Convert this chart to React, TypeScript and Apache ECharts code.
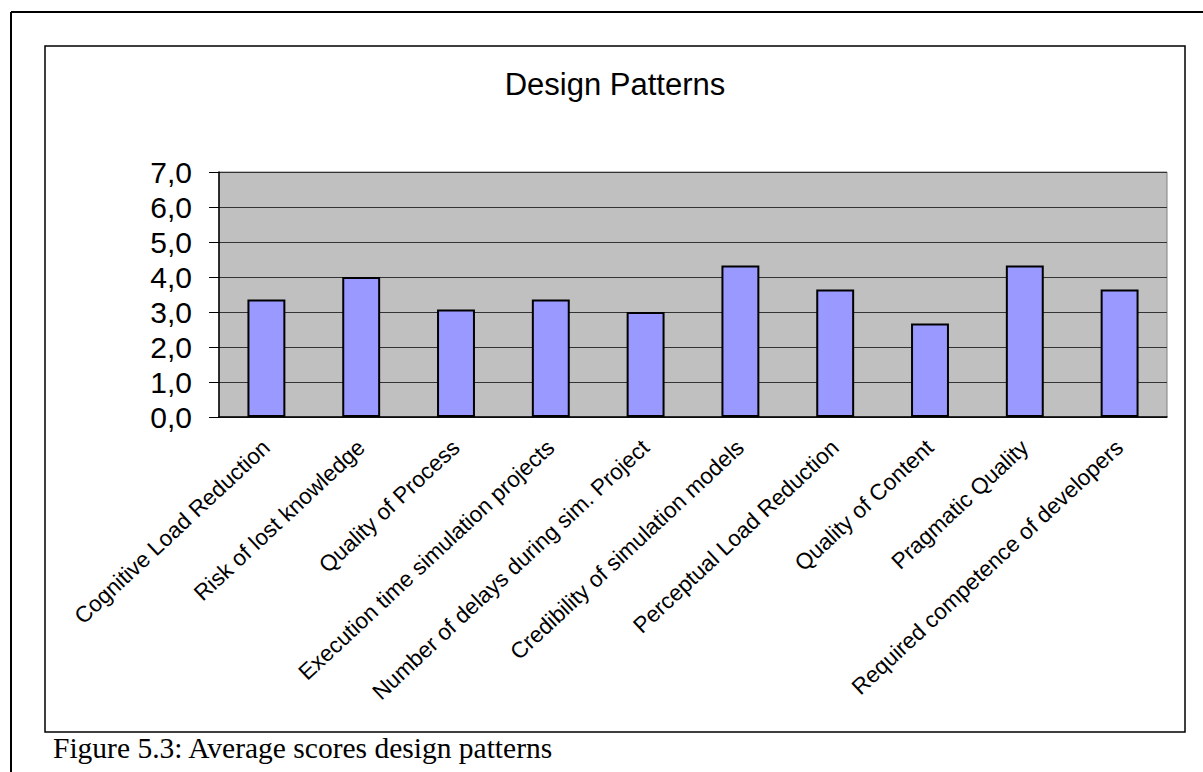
import React, { useEffect, useRef } from "react";
import * as echarts from "echarts";

const categories = [
  "Cognitive Load Reduction",
  "Risk of lost knowledge",
  "Quality of Process",
  "Execution time simulation projects",
  "Number of delays during sim. Project",
  "Credibility of simulation models",
  "Perceptual Load Reduction",
  "Quality of Content",
  "Pragmatic Quality",
  "Required competence of developers",
];
const scores = [3.36, 4.0, 3.07, 3.36, 3.0, 4.33, 3.64, 2.67, 4.33, 3.64];
const yMin = 0;
const yMax = 7;
const yStep = 1;
const chartTitle = "Design Patterns";
const caption = "Figure 5.3: Average scores design patterns";

export default function App() {
  const ref = useRef<HTMLDivElement>(null);
  useEffect(() => {
    if (!ref.current) return;
    const chart = echarts.init(ref.current, null, { renderer: "svg" });
    chart.setOption({
      animation: false,
      backgroundColor: "#ffffff",
      textStyle: { fontFamily: "Arial, 'Liberation Sans', sans-serif" },
      grid: {
        left: 219,
        right: 36,
        top: 172,
        bottom: 355,
        show: true,
        backgroundColor: "#C0C0C0",
        borderColor: "#808080",
        borderWidth: 1,
      },
      xAxis: {
        type: "category",
        data: categories,
        axisLine: { show: true, lineStyle: { color: "#000", width: 1.5 } },
        axisTick: { show: false },
        axisLabel: {
          interval: 0,
          rotate: 43,
          fontSize: 22.5,
          color: "#000",
          margin: 27,
          fontFamily: "Arial, 'Liberation Sans', sans-serif",
        },
      },
      yAxis: {
        type: "value",
        min: yMin,
        max: yMax,
        interval: yStep,
        axisLine: { show: true, lineStyle: { color: "#000", width: 1.5 } },
        axisTick: { show: true, length: 10, lineStyle: { color: "#000", width: 1 } },
        splitLine: { show: true, lineStyle: { color: "#333", width: 1 } },
        axisLabel: {
          fontSize: 30,
          color: "#000",
          margin: 27,
          fontFamily: "Arial, 'Liberation Sans', sans-serif",
          formatter: (v: number) => v.toFixed(1).replace(".", ","),
        },
      },
      series: [
        {
          type: "bar",
          data: scores,
          barWidth: "40%",
          itemStyle: { color: "#9999FF", borderColor: "#000", borderWidth: 2 },
        },
      ],
      graphic: [
        {
          type: "line",
          shape: { x1: 11, y1: 12, x2: 1203, y2: 12 },
          style: { stroke: "#000", lineWidth: 2 },
        },
        {
          type: "line",
          shape: { x1: 11, y1: 12, x2: 11, y2: 772 },
          style: { stroke: "#000", lineWidth: 2 },
        },
        {
          type: "rect",
          shape: { x: 45, y: 46, width: 1140, height: 686 },
          style: { fill: "none", stroke: "#000", lineWidth: 1.5 },
        },
        {
          type: "text",
          x: 615,
          y: 84,
          style: {
            text: chartTitle,
            fontSize: 31,
            fontFamily: "Arial, 'Liberation Sans', sans-serif",
            fill: "#000",
            textAlign: "center",
            textVerticalAlign: "middle",
          },
        },
        {
          type: "text",
          x: 53,
          y: 748,
          style: {
            text: caption,
            fontSize: 29.5,
            fontFamily: "'Times New Roman', 'Liberation Serif', serif",
            fill: "#000",
            textAlign: "left",
            textVerticalAlign: "middle",
          },
        },
      ],
    });
    return () => chart.dispose();
  }, []);
  return (
    <div
      ref={ref}
      style={{ position: "fixed", left: 0, top: 0, width: 1203, height: 772 }}
    />
  );
}
